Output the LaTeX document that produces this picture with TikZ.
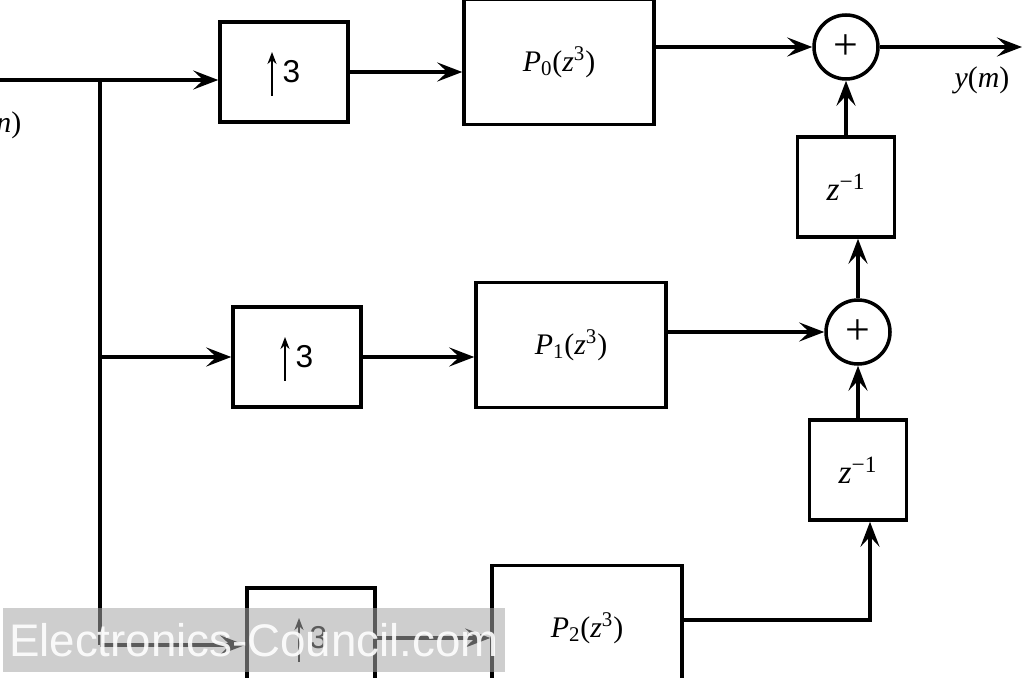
\documentclass[tikz,border=0pt]{standalone}
\usepackage{fontspec}
\setmainfont{Liberation Serif}
\setsansfont{Liberation Sans}
\usetikzlibrary{arrows.meta,calc}
\newcommand\upthree{\hspace*{0.3cm}{\sffamily 3}}
\newcommand\Pz[1]{\textit{P}\textsubscript{#1}(\textit{z}\textsuperscript{3})}
\newcommand\zinv{\textit{z}\textsuperscript{\char"2212 1}}
\begin{document}
\begin{tikzpicture}[x=0.02cm,y=-0.02cm,
  line width=2pt,
  blk/.style={draw, line width=2pt, inner sep=0pt, font=\fontsize{17}{19}\selectfont},
  upblk/.style={blk, minimum width=2.56cm, minimum height=2cm, font=\fontsize{18}{18}\selectfont},
  pblk/.style={blk, minimum width=3.8cm, minimum height=2.5cm},
  dblk/.style={blk, minimum width=1.94cm, minimum height=2cm, font=\fontsize{19}{19}\selectfont},
  sumnode/.style={draw, circle, line width=2pt, minimum size=1.28cm, inner sep=0pt, font=\fontsize{25}{25}\selectfont},
  arr/.style={-{Stealth[length=0.5cm,width=0.38cm,inset=0.2cm]}},
  tinyarr/.style={line width=1.3pt,-{Stealth[length=0.24cm,width=0.18cm]}},
  lab/.style={font=\fontsize{17}{17}\selectfont, inner sep=0pt},
]
\useasboundingbox (0,0) rectangle (1024,678);

% blocks
\node[upblk] (up1) at (284,72) {\upthree};
\node[pblk] (P0) at (559,62) {\Pz{0}};
\node[sumnode] (sum1) at (846,47) {+};
\node[dblk] (d1) at (846,187) {\zinv};

\node[upblk] (up2) at (297,357) {\upthree};
\node[pblk] (P1) at (571,345) {\Pz{1}};
\node[sumnode] (sum2) at (858,332) {+};
\node[dblk] (d2) at (858,470) {\zinv};

\node[upblk] (up3) at (311,638) {\upthree};
\node[pblk] (P2) at (587,628) {\Pz{2}};

\foreach \b in {up1,up2,up3}
  \draw[tinyarr] ($(\b.center)+(-12,24)$) -- ($(\b.center)+(-12,-20)$);

% labels
\node[lab, anchor=east] (xlab) at (23,125) {\textit{x}(\textit{n})};
\node[lab] (ylab) at (982,80) {\textit{y}(\textit{m})};

% coordinates
\coordinate (in0) at (0,80);
\coordinate (br0) at (100,80);
\coordinate (br1) at (100,357);
\coordinate (br2) at (100,645);
\coordinate (out) at (1022,47);
\coordinate (c3) at (870,620);

% connectors
\draw (in0) -- (br0);
\draw[arr] (br0) -- (up1.west |- br0);
\draw (br0) -- (br2);
\draw[arr] (br1) -- (up2.west |- br1);
\draw[arr] (br2) -- (up3.west |- br2);

\draw[arr] (up1.east) -- (up1.east -| P0.west);
\draw[arr] (P0.east |- sum1.west) -- (sum1.west);
\draw[arr] (sum1.east) -- (out);
\draw[arr] (d1.north) -- (sum1.south);

\draw[arr] (up2.east) -- (up2.east -| P1.west);
\draw[arr] (P1.east |- sum2.west) -- (sum2.west);
\draw[arr] (sum2.north) -- (sum2.north |- d1.south);
\draw[arr] (d2.north) -- (sum2.south);

\draw[arr] (up3.east) -- (up3.east -| P2.west);
\draw[arr] (P2.east |- c3) -- (c3) -- (c3 |- d2.south);

% watermark band
\node[fill=black!35, fill opacity=0.55, text opacity=0.9, text=white,
      minimum width=10.04cm, minimum height=1.28cm, inner sep=0pt,
      font=\sffamily\fontsize{26}{26}\selectfont] (wm) at (254,640) {Electronics-Council.com};
\end{tikzpicture}
\end{document}
